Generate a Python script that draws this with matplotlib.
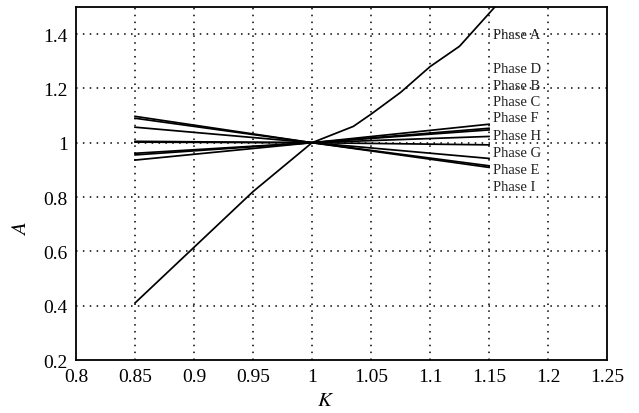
import numpy as np
import matplotlib
matplotlib.use('Agg')
from matplotlib import pyplot as plt

plt.rcParams['font.family'] = ['Liberation Serif', 'DejaVu Serif']
plt.rcParams['mathtext.fontset'] = 'stix'

# K values and the A curve of phase A
k_a = [0.85, 0.9, 0.95, 1.0, 1.035, 1.05, 1.075, 1.1, 1.125, 1.155]
a_a = [0.41, 0.615, 0.82, 1.0, 1.06, 1.105, 1.185, 1.28, 1.355, 1.5]

# the other phases: straight lines through (1, 1)
k_lin = [0.85, 1.0, 1.15]
a_lin = {
    'B': [1.097, 1.0, 0.909],
    'C': [1.090, 1.0, 0.915],
    'D': [1.057, 1.0, 0.942],
    'E': [1.005, 1.0, 0.992],
    'F': [1.002, 1.0, 1.023],
    'G': [0.961, 1.0, 1.047],
    'H': [0.955, 1.0, 1.053],
    'I': [0.936, 1.0, 1.068],
}

label_names = ['Phase A', 'Phase D', 'Phase B', 'Phase C', 'Phase F',
               'Phase H', 'Phase G', 'Phase E', 'Phase I']
label_y = [1.398, 1.273, 1.211, 1.152, 1.094, 1.028, 0.965, 0.903, 0.840]

xticks = [0.8, 0.85, 0.9, 0.95, 1.0, 1.05, 1.1, 1.15, 1.2, 1.25]
xticklabels = ['0.8', '0.85', '0.9', '0.95', '1', '1.05', '1.1', '1.15', '1.2', '1.25']
yticks = [0.2, 0.4, 0.6, 0.8, 1.0, 1.2, 1.4]
yticklabels = ['0.2', '0.4', '0.6', '0.8', '1', '1.2', '1.4']

fig = plt.figure(figsize=(6.39, 4.14), dpi=100)
ax = fig.add_axes([0.119, 0.128, 0.831, 0.853])

ax.plot(k_a, a_a, color='black', lw=1.25)
for name in a_lin:
    ax.plot(k_lin, a_lin[name], color='black', lw=1.25)

for name, y in zip(label_names, label_y):
    ax.text(1.153, y, name, fontsize=10.5, va='center', ha='left', color='#222222')

ax.set_xlim(0.8, 1.25)
ax.set_ylim(0.2, 1.5)
ax.set_xticks(xticks)
ax.set_xticklabels(xticklabels)
ax.set_yticks(yticks)
ax.set_yticklabels(yticklabels)
ax.tick_params(length=0, labelsize=14, pad=6)

for x in xticks[1:-1]:
    ax.axvline(x, color='black', lw=1.1, ls=(0, (1, 3.5)), zorder=0)
for y in yticks[1:]:
    ax.axhline(y, color='black', lw=1.1, ls=(0, (1, 3.5)), zorder=0)

for s in ax.spines.values():
    s.set_linewidth(1.3)

ax.set_xlabel('$K$', fontsize=15)
ax.set_ylabel('$A$', fontsize=15)
ax.xaxis.set_label_coords(0.469, -0.088)
ax.yaxis.set_label_coords(-0.085, 0.374)

plt.savefig('out.png', dpi=100)
plt.close()
